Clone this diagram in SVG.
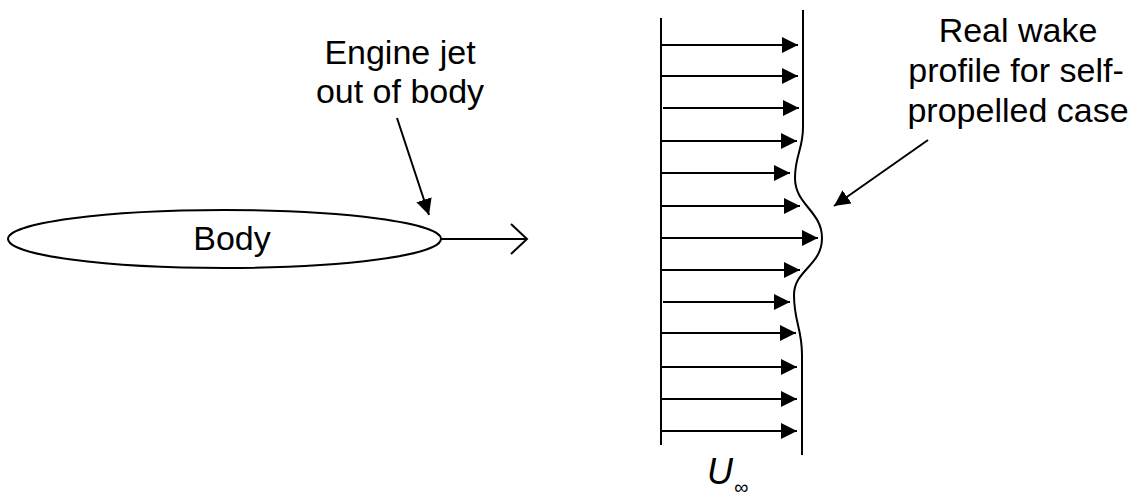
<svg xmlns="http://www.w3.org/2000/svg" width="1147" height="499" viewBox="0 0 1147 499">
  <style>
    .ln { stroke: #000; stroke-width: 2; fill: none; }
    .lbl { font-family: "Liberation Sans", Arial, sans-serif; font-size: 34px; fill: #000; text-anchor: middle; }
    .arr { stroke: #000; stroke-width: 2; fill: none; marker-end: url(#head); }
  </style>
  <defs>
    <marker id="head" markerUnits="userSpaceOnUse" markerWidth="17" markerHeight="17" refX="16" refY="8" orient="auto">
      <path d="M0,0 L16,8 L0,16 Z" fill="#000"/>
    </marker>
  </defs>

  <rect width="1147" height="499" fill="#fff"/>

  <!-- body with its jet -->
  <g id="body">
    <ellipse class="ln" cx="224.5" cy="239" rx="216.5" ry="29"/>
    <text class="lbl" x="232" y="250" font-size="36">Body</text>
  </g>

  <g id="jet-label">
    <text class="lbl" x="400" y="64">Engine jet</text>
    <text class="lbl" x="400" y="103">out of body</text>
  </g>

  <g id="wake-label">
    <text class="lbl" x="1018" y="42" font-size="35">Real wake</text>
    <text class="lbl" x="1016" y="82" font-size="35">profile for self-</text>
    <text class="lbl" x="1018" y="122" font-size="35">propelled case</text>
  </g>

  <!-- velocity profile -->
  <g id="profile">
    <line class="ln" x1="661" y1="18" x2="661" y2="445"/>
    <path class="ln" d="M803,10 L803,127 C803,150 795,155 795,178 C795,205 822,211 822,238 C822,266 794,270 794,295 C794,322 802,328 802,355 L802,455"/>
  </g>

  <g id="velocity-arrows">
    <line class="arr" x1="661" y1="45" x2="798" y2="45"/>
    <line class="arr" x1="661" y1="76" x2="798" y2="76"/>
    <line class="arr" x1="663" y1="108" x2="799" y2="108"/>
    <line class="arr" x1="661" y1="141" x2="797" y2="141"/>
    <line class="arr" x1="661" y1="173" x2="790" y2="173"/>
    <line class="arr" x1="661" y1="206" x2="800" y2="206"/>
    <line class="arr" x1="661" y1="238" x2="818" y2="238"/>
    <line class="arr" x1="661" y1="270" x2="800" y2="270"/>
    <line class="arr" x1="663" y1="302" x2="790" y2="302"/>
    <line class="arr" x1="661" y1="333" x2="796" y2="333"/>
    <line class="arr" x1="661" y1="367" x2="797" y2="367"/>
    <line class="arr" x1="661" y1="399" x2="797" y2="399"/>
    <line class="arr" x1="661" y1="431" x2="797" y2="431"/>
  </g>

  <g id="freestream-label">
    <text x="707" y="484" font-family="'Liberation Sans', Arial, sans-serif" font-size="36" font-style="italic">U</text>
    <text x="734" y="494" font-family="'Liberation Sans', Arial, sans-serif" font-size="20" font-style="italic">∞</text>
  </g>

  <!-- connectors -->
  <g id="connectors">
    <line class="ln" x1="441" y1="239" x2="527" y2="239"/>
    <polyline class="ln" points="511,224 527,239 511,254"/>
    <line class="arr" x1="397" y1="118" x2="429" y2="215"/>
    <line class="arr" x1="928" y1="140" x2="834" y2="206"/>
  </g>
</svg>
